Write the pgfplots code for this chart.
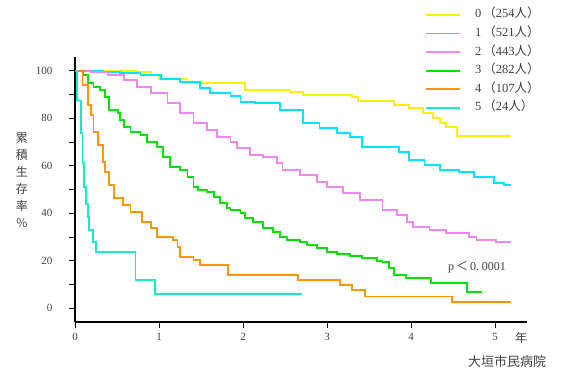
\documentclass[border=0pt]{standalone}
\usepackage{fontspec}
\setmainfont{Liberation Serif}
\newfontfamily\cjk{Noto Sans CJK JP}
\usepackage{pgfplots}
\pgfplotsset{compat=1.18}
\definecolor{c0}{RGB}{250,240,0}
\definecolor{c1}{RGB}{0,229,255}
\definecolor{c2}{RGB}{240,135,240}
\definecolor{c3}{RGB}{0,226,0}
\definecolor{c4}{RGB}{255,150,0}
\definecolor{c5}{RGB}{20,235,200}
\definecolor{txt}{RGB}{64,64,64}
\begin{document}
\begin{tikzpicture}
\useasboundingbox (0,0) rectangle (567pt,382pt);
\begin{axis}[
  at={(75pt,60pt)}, anchor=south west,
  scale only axis, width=452pt, height=265pt,
  xmin=0, xmax=5.38, ymin=-5.8, ymax=105.8,
  axis x line*=bottom, axis y line*=left,
  axis line style={line width=1.2pt, black},
  xtick={0,1,2,3,4,5}, ytick={0,20,40,60,80,100}, minor ytick={10,30,50,70,90},
  tick align=outside, major tick length=6pt, minor tick length=6pt,
  tick style={line width=0.9pt, black},
  /pgf/number format/assume math mode=true,
  tick label style={font=\fontsize{11}{13}\selectfont, text=txt},
  yticklabel style={xshift=-13pt},
  xticklabel style={yshift=-2pt},
  every axis plot/.append style={line width=1.8pt, const plot},
  legend cell align=left,
  legend image code/.code={\draw[#1, line width=1.8pt] (0pt,0pt) -- (34pt,0pt);},
  legend style={at={(axis description cs:0.768,1.19)}, anchor=north west,
    draw=none, fill=none, font=\fontsize{12.5}{14}\selectfont, text=txt,
    row sep=6.6pt, column sep=14pt, nodes={inner sep=0pt, text height=9pt, text depth=3pt}},
  clip=false,
]
% 0
\addplot[c0] coordinates {(0,100) (0.74,99.6) (0.90,98.4) (1.0,96.6) (1.34,95.0) (1.76,94.8) (2.02,91.9) (2.56,91.1) (2.71,89.7) (3.30,89.1) (3.37,87.4) (3.80,85.6) (3.98,84.3) (4.14,82.2) (4.26,80.1) (4.34,78.0) (4.42,76.3) (4.55,72.5) (5.19,72.5)};
\addlegendentry{0\,{\cjk （}254{\cjk 人）}}
% 1
\addplot[c1] coordinates {(0,100) (0.34,99.6) (0.54,99.2) (0.78,98.2) (1.02,96.6) (1.25,95.4) (1.49,92.7) (1.61,90.6) (1.85,89.4) (1.97,87.0) (2.14,86.4) (2.44,83.5) (2.71,78.0) (2.91,75.9) (3.12,73.8) (3.27,72.1) (3.42,67.9) (3.86,65.8) (3.98,62.4) (4.16,60.3) (4.34,58.2) (4.57,57.4) (4.75,55.3) (4.99,52.7) (5.11,51.9) (5.19,51.9)};
\addlegendentry{1\,{\cjk （}521{\cjk 人）}}
% 2
\addplot[c2] coordinates {(0,100) (0.19,99.6) (0.39,98.2) (0.58,96.1) (0.74,93.3) (0.90,90.6) (1.10,86.4) (1.25,82.2) (1.41,78.0) (1.57,75.1) (1.69,72.1) (1.85,70.0) (1.93,67.5) (2.08,64.5) (2.24,63.7) (2.40,61.2) (2.47,58.2) (2.68,56.1) (2.88,53.2) (3.00,51.2) (3.19,48.5) (3.39,45.6) (3.66,41.4) (3.83,39.3) (3.95,36.4) (4.02,34.3) (4.22,33.0) (4.42,31.7) (4.69,30.1) (4.78,28.7) (5.01,28.0) (5.19,28.0)};
\addlegendentry{2\,{\cjk （}443{\cjk 人）}}
% 3
\addplot[c3] coordinates {(0,100) (0.10,98.2) (0.15,94.8) (0.22,93.3) (0.30,91.9) (0.36,89.1) (0.40,83.5) (0.51,82.2) (0.54,79.3) (0.58,76.3) (0.66,74.2) (0.78,72.9) (0.86,70.0) (0.98,67.9) (1.05,63.7) (1.13,59.5) (1.25,58.2) (1.34,55.3) (1.41,51.1) (1.46,49.8) (1.57,48.9) (1.65,46.8) (1.73,44.3) (1.81,42.2) (1.85,41.4) (1.97,40.1) (2.02,38.0) (2.12,36.3) (2.24,33.8) (2.36,32.1) (2.44,30.0) (2.52,28.7) (2.68,27.9) (2.76,26.6) (2.88,25.4) (3.00,23.7) (3.12,22.9) (3.27,22.0) (3.42,21.2) (3.59,19.9) (3.66,19.5) (3.74,17.0) (3.80,14.0) (3.94,12.8) (4.24,10.6) (4.67,6.9) (4.85,6.9)};
\addlegendentry{3\,{\cjk （}282{\cjk 人）}}
% 4
\addplot[c4] coordinates {(0,100) (0.04,100) (0.09,94.0) (0.15,85.6) (0.19,81.4) (0.22,74.2) (0.27,68.7) (0.33,61.6) (0.36,57.4) (0.40,51.9) (0.46,46.4) (0.57,43.5) (0.66,40.5) (0.80,36.3) (0.90,33.8) (0.98,30.0) (1.17,28.7) (1.22,25.8) (1.25,21.6) (1.41,20.3) (1.49,18.2) (1.82,14.0) (2.65,11.9) (3.15,9.8) (3.30,7.7) (3.45,4.9) (4.49,2.7) (5.19,2.7)};
\addlegendentry{4\,{\cjk （}107{\cjk 人）}}
% 5
\addplot[c5] coordinates {(0,100) (0.02,87.5) (0.07,73.7) (0.09,61.0) (0.11,51.0) (0.13,44.0) (0.15,38.5) (0.17,33.0) (0.21,28.0) (0.25,23.7) (0.72,11.9) (0.95,6.0) (2.70,6.0)};
\addlegendentry{5\,{\cjk （}24{\cjk 人）}}
\end{axis}
\node[font=\fontsize{12}{14}\selectfont, text=txt] at (477pt,115pt) {p\,{\cjk ＜}\,0.\hspace{3pt}0001};
\node[font=\cjk\fontsize{12}{14}\selectfont, text=txt] at (521pt,44pt) {年};
\node[font=\cjk\fontsize{13}{15}\selectfont, text=txt] at (507pt,20pt) {大垣市民病院};
\node[font=\cjk\fontsize{12}{17}\selectfont, text=txt, align=center] at (22pt,202pt) {累\\積\\生\\存\\率\\\%};
\end{tikzpicture}
\end{document}
